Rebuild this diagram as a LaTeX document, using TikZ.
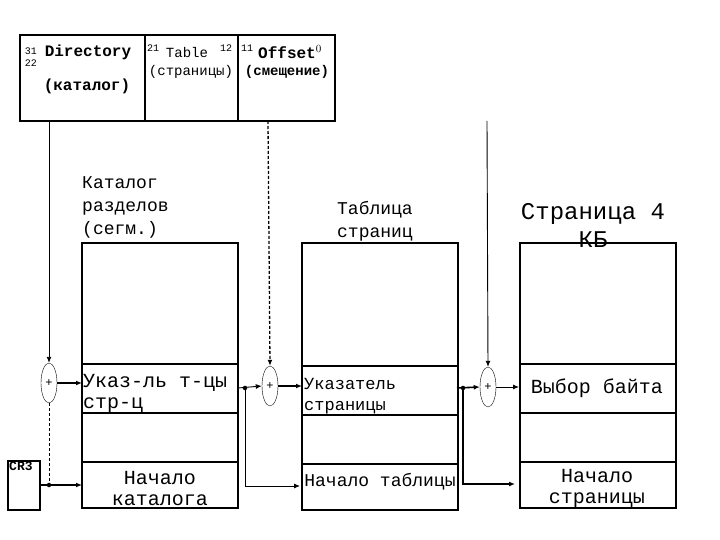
\documentclass[tikz,border=0pt]{standalone}
\usepackage{fontspec}
\setmainfont{Liberation Mono}
\usetikzlibrary{shapes.geometric,arrows.meta}
\begin{document}
\begin{tikzpicture}[x=1pt,y=-1pt,
    cell/.style={draw, line width=2pt},
    adder/.style={ellipse, draw, minimum width=16pt, minimum height=40pt, inner sep=0pt, font=\fontsize{12}{12}\selectfont},
    link/.style={-{Latex[length=6pt,width=5pt]}, line width=0.9pt},
    dot/.style={circle, fill, inner sep=1.6pt},
    txt/.style={font=\fontsize{20}{21}\selectfont, align=center},
    small/.style={font=\fontsize{17}{21}\selectfont, align=center},
    title/.style={font=\fontsize{18}{23}\selectfont, align=center},
    bold/.style={font=\fontsize{16}{19}\selectfont\bfseries}
]
\useasboundingbox (0,0) rectangle (720,540);

% address register
\draw[cell] (20,35) rectangle (335,121);
\draw[cell] (145,35) -- (145,121);
\draw[cell] (238,35) -- (238,121);
\node[font=\fontsize{10}{12}\selectfont, align=left] at (31,57) {31\\22};
\node[bold] (dirname) at (88,52) {Directory};
\node[bold] at (87,86) {(каталог)};
\node[font=\fontsize{10}{10}\selectfont] at (153,48) {21};
\node[font=\fontsize{14}{16}\selectfont] (tabname) at (187,52) {Table};
\node[font=\fontsize{10}{10}\selectfont] at (226,48) {12};
\node[font=\fontsize{14}{16}\selectfont] at (191,72) {(страницы)};
\node[font=\fontsize{10}{10}\selectfont] at (247,48) {11};
\node[bold] (offname) at (290,52) {Offset$^{0}$};
\node[font=\fontsize{14}{16}\selectfont\bfseries] at (287,72) {(смещение)};
\coordinate (dirout) at (49,121);
\coordinate (tabout) at (268,121);
\coordinate (offout) at (487,121);

% tables
\foreach \x/\y in {82/0, 302/2, 520/0} {
  \draw[cell] (\x,243) rectangle (\x+156,508+\y);
  \foreach \d in {364,413,462} \draw[cell] (\x,\d+\y) -- (\x+156,\d+\y);
}
\node[title, align=left, anchor=north west, inner sep=0pt] at (82,176) {Каталог\\разделов\\(сегм.)};
\node[title] at (375,221) {Таблица\\страниц};
\node[font=\fontsize{24}{28}\selectfont, align=center] at (593,225) {Страница 4\\КБ};

\node[txt, anchor=west, align=left, inner sep=0pt] (dirent) at (83,393) {Указ-ль т-цы\\стр-ц};
\node[txt] at (160,489) {Начало\\каталога};
\node[small, anchor=west, align=left, inner sep=0pt] (tabent) at (304,396) {Указатель\\страницы};
\node[font=\fontsize{18}{21}\selectfont] at (380,482) {Начало таблицы};
\node[txt] (byte) at (597,388) {Выбор байта};
\node[txt] at (597,488) {Начало\\страницы};

% CR3
\draw[cell] (8,461) rectangle (40,510);
\node[font=\fontsize{13}{14}\selectfont\bfseries, anchor=north west, inner sep=1pt] (cr) at (8,461) {CR3};

% adders
\node[adder] (s1) at (49,383) {+};
\node[adder] (s2) at (270,386) {+};
\node[adder] (s3) at (488,387) {+};

% connectors
\coordinate (c1) at (82,383);
\coordinate (c2) at (302,386);
\coordinate (c3) at (519,387);
\draw[link] (dirout) -- (s1.north);
\draw[link, densely dashed, line width=1.3pt] (tabout) -- (s2.north);
\draw[link] (offout) -- (s3.north);
\draw[link, line width=1.8pt] (s1.east) -- (c1);
\draw[link, line width=1.8pt] (s2.east) -- (c2);
\draw[link] (s3.east) -- (c3);

\node[dot] (j0) at (49,485) {};
\draw[densely dashed] (s1.south) -- (j0);
\draw[link, line width=1.8pt] (40,485) -- (82,485);

\node[dot] (j1) at (245,388) {};
\draw[link] (238,388) -- (s2.west);
\draw[link] (j1) |- (300,486);
\node[dot] (j2) at (463,388) {};
\draw[link, line width=1.6pt] (457,388) -- (s3.west);
\draw[link, line width=1.6pt] (j2) |- (515,484);
\end{tikzpicture}
\end{document}
